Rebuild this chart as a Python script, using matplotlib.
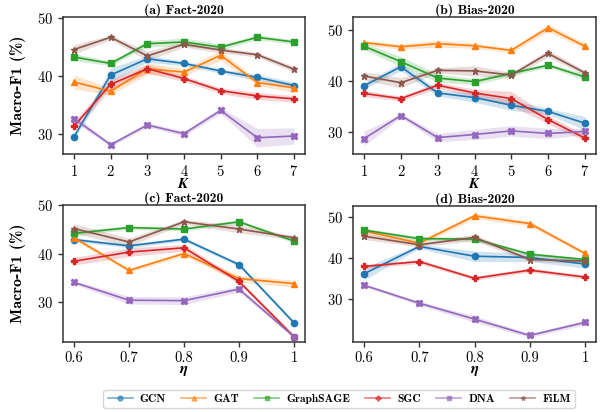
import numpy as np
import matplotlib
matplotlib.use('Agg')
import matplotlib.pyplot as plt

plt.rcParams['font.family'] = ['cmr10', 'DejaVu Serif']
plt.rcParams['axes.formatter.use_mathtext'] = True
plt.rcParams['mathtext.fontset'] = 'cm'

models = ['GCN', 'GAT', 'GraphSAGE', 'SGC', 'DNA', 'FiLM']
colors = ['#1f77b4', '#ff7f0e', '#2ca02c', '#d62728', '#9467bd', '#8c564b']
markers = ['o', '^', 's', 'P', 'X', '*']

k_vals = [1, 2, 3, 4, 5, 6, 7]
eta_vals = [0.6, 0.7, 0.8, 0.9, 1.0]

# (a) Fact-2020 vs K
fact_k = {
    'GCN':       [29.6, 40.2, 43.0, 42.2, 40.9, 39.8, 38.4],
    'GAT':       [39.0, 37.4, 41.3, 40.7, 43.6, 38.9, 38.0],
    'GraphSAGE': [43.3, 42.2, 45.6, 45.9, 45.0, 46.7, 45.9],
    'SGC':       [31.4, 38.6, 41.3, 39.6, 37.5, 36.6, 36.1],
    'DNA':       [32.7, 28.2, 31.6, 30.1, 34.1, 29.4, 29.7],
    'FiLM':      [44.6, 46.7, 43.5, 45.5, 44.5, 43.7, 41.2],
}
fact_k_err = {
    'GCN':       [0.4, 1.2, 0.6, 0.4, 0.4, 0.5, 0.6],
    'GAT':       [1.2, 0.6, 1.0, 0.6, 0.9, 0.5, 0.8],
    'GraphSAGE': [0.6, 0.4, 0.5, 0.7, 0.5, 0.4, 0.4],
    'SGC':       [0.8, 0.8, 0.8, 0.5, 0.5, 0.6, 0.6],
    'DNA':       [0.6, 0.3, 0.4, 0.4, 0.5, 1.6, 1.4],
    'FiLM':      [0.8, 0.4, 0.8, 0.5, 0.5, 0.4, 0.5],
}

# (b) Bias-2020 vs K
bias_k = {
    'GCN':       [39.1, 42.8, 37.7, 36.8, 35.3, 34.1, 31.8],
    'GAT':       [47.5, 46.7, 47.3, 46.9, 46.0, 50.4, 46.8],
    'GraphSAGE': [46.8, 43.8, 40.6, 39.9, 41.5, 43.1, 40.8],
    'SGC':       [37.6, 36.6, 39.2, 37.7, 36.6, 32.5, 28.9],
    'DNA':       [28.8, 33.3, 29.0, 29.6, 30.3, 29.8, 30.2],
    'FiLM':      [41.0, 39.7, 42.1, 42.0, 41.2, 45.4, 41.6],
}
bias_k_err = {
    'GCN':       [0.6, 0.8, 0.6, 0.9, 1.0, 0.6, 1.3],
    'GAT':       [0.5, 0.5, 0.7, 0.5, 0.5, 0.7, 0.6],
    'GraphSAGE': [0.6, 1.0, 0.8, 0.6, 0.5, 0.4, 0.6],
    'SGC':       [0.6, 0.5, 0.6, 0.7, 1.4, 0.8, 0.6],
    'DNA':       [1.4, 0.4, 0.8, 1.0, 1.0, 1.0, 0.6],
    'FiLM':      [0.8, 1.0, 0.5, 1.0, 0.5, 0.7, 0.5],
}

# (c) Fact-2020 vs eta
fact_eta = {
    'GCN':       [42.9, 41.6, 43.0, 37.7, 25.6],
    'GAT':       [43.3, 36.5, 40.0, 34.8, 33.75],
    'GraphSAGE': [44.2, 45.4, 45.1, 46.6, 42.6],
    'SGC':       [38.4, 40.3, 41.2, 34.2, 22.7],
    'DNA':       [34.0, 30.3, 30.2, 32.6, 22.7],
    'FiLM':      [45.2, 42.4, 46.6, 45.1, 43.3],
}
fact_eta_err = {
    'GCN':       [0.4, 0.4, 0.4, 0.4, 0.4],
    'GAT':       [0.5, 0.4, 0.5, 0.7, 0.7],
    'GraphSAGE': [0.5, 0.4, 0.4, 0.4, 0.4],
    'SGC':       [0.8, 0.9, 0.7, 0.5, 0.4],
    'DNA':       [0.4, 0.8, 0.8, 0.6, 0.3],
    'FiLM':      [1.0, 0.8, 0.5, 0.8, 0.4],
}

# (d) Bias-2020 vs eta
bias_eta = {
    'GCN':       [36.2, 42.9, 40.5, 40.2, 38.6],
    'GAT':       [46.7, 43.7, 50.4, 48.5, 41.2],
    'GraphSAGE': [46.9, 44.8, 44.7, 41.0, 39.7],
    'SGC':       [38.0, 39.2, 35.1, 37.1, 35.4],
    'DNA':       [33.4, 29.0, 25.1, 21.1, 24.3],
    'FiLM':      [45.4, 43.3, 45.1, 39.7, 39.3],
}
bias_eta_err = {
    'GCN':       [1.5, 0.5, 1.3, 1.0, 1.0],
    'GAT':       [0.7, 0.6, 0.7, 0.6, 0.5],
    'GraphSAGE': [0.5, 0.5, 0.5, 0.4, 0.4],
    'SGC':       [0.5, 0.5, 0.5, 0.5, 0.5],
    'DNA':       [0.4, 0.5, 0.8, 0.5, 0.6],
    'FiLM':      [0.8, 0.5, 0.8, 0.5, 0.5],
}

panels = [
    ('(a) Fact-2020', k_vals, fact_k, fact_k_err, (26.6, 50.2), '$\\boldsymbol{K}$'),
    ('(b) Bias-2020', k_vals, bias_k, bias_k_err, (25.8, 52.5), '$\\boldsymbol{K}$'),
    ('(c) Fact-2020', eta_vals, fact_eta, fact_eta_err, (21.6, 50.1), '$\\boldsymbol{\\eta}$'),
    ('(d) Bias-2020', eta_vals, bias_eta, bias_eta_err, (19.5, 52.8), '$\\boldsymbol{\\eta}$'),
]

W, H = 603, 412
fig = plt.figure(figsize=(W / 100, H / 100), dpi=100)
rects = [(63, 17, 305, 154), (353, 17, 596, 154),
         (63, 205, 305, 342), (353, 206, 596, 342)]

bold = ['cmb10', 'DejaVu Serif']
handles = []
for i, (title, xs, data, err, ylim, xlabel) in enumerate(panels):
    l, t, r, b = rects[i]
    ax = fig.add_axes([l / W, (H - b) / H, (r - l) / W, (b - t) / H])
    for m, c, mk in zip(models, colors, markers):
        y = np.array(data[m])
        e = np.array(err[m])
        ln, = ax.plot(xs, y, color=c, marker=mk, markersize=4.5, lw=1.2, label=m)
        ax.fill_between(xs, y - e, y + e, color=c, alpha=0.2, lw=0)
        if i == 0:
            handles.append(ln)
    ax.set_ylim(*ylim)
    ax.set_yticks([30, 40, 50] if ylim[1] >= 50 else [30, 40])
    ax.set_xticks(xs)
    if xs is eta_vals:
        ax.set_xticklabels(['0.6', '0.7', '0.8', '0.9', '1'])
    ax.tick_params(labelsize=10.5, direction='out', length=3.5, width=1, color='#333333')
    for s in ax.spines.values():
        s.set_color('#333333')
        s.set_linewidth(1.1)
    ax.set_title(title, fontsize=9.8, fontweight='bold', family=bold, pad=2)
    ax.set_xlabel(xlabel, fontsize=11, labelpad=-1)
    if i % 2 == 0:
        ax.set_ylabel('Macro-F1 (%)', fontsize=11.5, fontweight='bold', family=bold, labelpad=8)

leg = fig.legend(handles=handles, loc='center', bbox_to_anchor=(339 / W, 1 - 399 / H),
                 ncol=6, frameon=True, handlelength=2.2, columnspacing=1.3,
                 handletextpad=0.6, borderpad=0.35,
                 prop={'family': bold, 'weight': 'bold', 'size': 8.3})
for h in leg.legend_handles:
    h.set_alpha(0.6)
    h.set_markersize(3.5)

fig.savefig('out.png', dpi=100)
